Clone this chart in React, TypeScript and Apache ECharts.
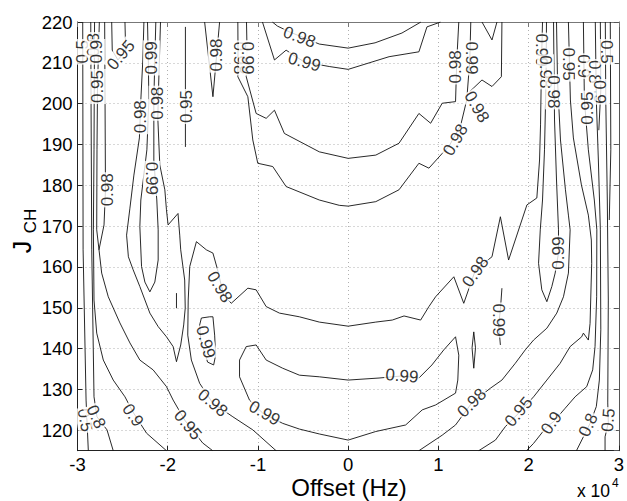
import React, { useEffect, useRef } from "react";
import * as echarts from "echarts";

// x values are in units of 10^4 Hz (axis reads -3 ... 3, "x 10^4"), y values are J_CH.
const left05 = [[-2.942, 220], [-2.938, 164.2], [-2.905, 127.4], [-2.88, 115]];
const left08 = [[-2.853, 220], [-2.85, 200.9], [-2.842, 164.2], [-2.817, 128.2], [-2.784, 123.3], [-2.673, 120.1], [-2.604, 115]];
const left09 = [[-2.811, 220], [-2.817, 188.7], [-2.824, 169.1], [-2.817, 151.9], [-2.787, 143.8], [-2.714, 137.2], [-2.604, 132.3], [-2.474, 128.2], [-2.386, 124.5], [-2.235, 119.3], [-2.014, 115]];
const left095 = [[-2.758, 220], [-2.778, 204.2], [-2.784, 188.7], [-2.787, 169.1], [-2.732, 158.5], [-2.659, 152.7], [-2.53, 146.3], [-2.419, 141.4], [-2.309, 137.2], [-2.162, 134.8], [-2.014, 130.7], [-1.94, 127.4], [-1.812, 122.5], [-1.613, 116.9], [-1.502, 115]];
const left098a = [[-2.699, 220], [-2.69, 178.9], [-2.706, 170.3], [-2.762, 164.2]];
const tongue095 = [[-2.621, 220], [-2.615, 213.1], [-2.552, 210.7], [-2.463, 213.1], [-2.469, 215.6], [-2.474, 220]];
const tongue099L = [[-2.224, 220], [-2.215, 210.7], [-2.209, 200.9], [-2.231, 188.7], [-2.298, 176.4], [-2.309, 169.9], [-2.29, 160.1], [-2.253, 156.3], [-2.198, 153.9], [-2.143, 156.3], [-2.106, 161.7], [-2.106, 169.1], [-2.121, 176.4], [-2.154, 186.2], [-2.154, 200.9], [-2.143, 210.7], [-2.132, 220]];
const left098 = [[-2.264, 220], [-2.276, 210.7], [-2.298, 200.9], [-2.314, 191.6], [-2.375, 182.5], [-2.419, 174.4], [-2.456, 167.8], [-2.436, 162.5], [-2.383, 159.3], [-2.309, 155.2], [-2.198, 148.7], [-2.106, 145.4], [-2.014, 142.9], [-1.94, 140.5], [-1.903, 136.8], [-1.856, 140.9], [-1.823, 145.8], [-1.806, 149.9], [-1.812, 156.8], [-1.856, 164.2], [-1.867, 167.8], [-1.886, 173.1], [-1.996, 170.3], [-2.014, 174], [-2.032, 178.9], [-2.088, 185], [-2.11, 196.5], [-2.099, 205.8], [-2.08, 220]];
const vTopLeft = [[-1.591, 220], [-1.499, 201.7], [-1.425, 220]];
const sliver095 = [[-1.804, 218.8], [-1.804, 189.4]];
const sliverLow = [[-1.903, 153.6], [-1.903, 149.9]];
const curveA = [[-0.799, 115], [-1.057, 120.1], [-1.278, 123.3], [-1.502, 126.7], [-1.646, 131.5], [-1.738, 137.2], [-1.778, 143.3], [-1.773, 151.9], [-1.756, 160.1], [-1.682, 166.2], [-1.572, 164.2], [-1.499, 163.4], [-1.447, 159.3], [-1.381, 153.1], [-1.296, 151.1], [-1.112, 154.8], [-1.02, 154.4], [-0.909, 150.3], [-0.762, 148.7], [-0.541, 147.8], [-0.32, 146.5], [0, 145.5], [0.306, 146.5], [0.489, 147], [0.619, 148], [0.803, 147], [0.895, 150.3], [0.969, 152.7], [1.171, 157.6], [1.281, 151.1], [1.411, 159.3], [1.594, 162.5], [1.687, 172.3], [1.778, 161.7], [1.981, 175.2], [2.091, 176.9], [2.121, 186.2], [2.132, 194.8], [2.143, 210.7], [2.154, 220]];
const loop099L = [[-1.627, 147.5], [-1.535, 147.8], [-1.499, 147.8], [-1.48, 143.3], [-1.469, 138.4], [-1.491, 136], [-1.558, 136.7], [-1.635, 142.1], [-1.646, 145.8], [-1.627, 147.5]];
const tongue099C = [[-1.13, 140.5], [-1.02, 140.9], [-0.909, 137.2], [-0.726, 135.2], [-0.541, 133.5], [-0.32, 133.1], [0, 132.3], [0.342, 132.8], [0.596, 133.3], [0.784, 132.8], [0.928, 136], [1.06, 139.7], [1.19, 142.9], [1.226, 138.4], [1.215, 132.3], [1.19, 129.1], [0.969, 126.2], [0.821, 125], [0.637, 121.3], [0.306, 119.7], [0, 117.6], [-0.32, 119.1], [-0.541, 120.3], [-0.726, 121.7], [-0.947, 124.2], [-1.094, 127.4], [-1.204, 133.1], [-1.204, 137.2], [-1.13, 140.5]];
const right098 = [[0.784, 115], [1.042, 118.8], [1.19, 121.3], [1.37, 126.7], [1.576, 130.3], [1.704, 132.3], [1.852, 136.4], [1.963, 139.7], [2.055, 142.1], [2.202, 145], [2.312, 148.7], [2.386, 152.7], [2.441, 158.5], [2.46, 169.1], [2.441, 172.7], [2.408, 178.9], [2.353, 191.1], [2.32, 205.8], [2.309, 220]];
const tongue099R = [[2.198, 220], [2.193, 205.8], [2.176, 188.7], [2.154, 176.4], [2.129, 169.1], [2.11, 160.9], [2.146, 154.4], [2.202, 151.5], [2.257, 155.2], [2.294, 158.5], [2.331, 163.4], [2.331, 169.1], [2.309, 181.3], [2.287, 196], [2.276, 220]];
const right095 = [[2.441, 220], [2.463, 200.9], [2.496, 191.6], [2.585, 180.1], [2.662, 172.7], [2.695, 166.6], [2.699, 160.9], [2.681, 146.2], [2.662, 142.1], [2.607, 143.8], [2.588, 142.9], [2.46, 140.5], [2.349, 136.4], [2.202, 132.3], [2.055, 128.2], [1.889, 124.2], [1.742, 120.9], [1.632, 117.6], [1.447, 115]];
const right09 = [[2.607, 220], [2.618, 200.9], [2.662, 188.7], [2.728, 176.4], [2.756, 169.1], [2.754, 152.7], [2.736, 140.5], [2.71, 134.8], [2.644, 130.7], [2.515, 128.2], [2.405, 125.4], [2.276, 122.1], [2.202, 120.9], [2.055, 116.8], [1.977, 115]];
const right08 = [[2.739, 220], [2.75, 200.9], [2.773, 186.2], [2.795, 169.1], [2.8, 144.6], [2.784, 132.3], [2.75, 125.8], [2.681, 121.7], [2.607, 118.4], [2.53, 115]];
const right05 = [[2.85, 220], [2.855, 200.9], [2.872, 176.4], [2.883, 151.9], [2.877, 126.7], [2.883, 121.8], [2.847, 118.4], [2.847, 115]];
const right09b = [[2.795, 220], [2.8, 203.3], [2.778, 193.5]];
const right05b = [[2.905, 220], [2.911, 188.7], [2.894, 171.5]];
const topRightW = [[1.704, 220], [1.698, 206.6], [1.594, 204.2], [1.483, 205.8], [1.345, 202.9]];
const vTopRight = [[1.483, 220], [1.594, 215.6], [1.649, 220]];
const ellipseR = [[1.392, 144.1], [1.373, 140.2], [1.392, 135.2], [1.411, 140.2], [1.392, 144.1]];
const segment099R = [[1.704, 154.8], [1.687, 149.5], [1.668, 145.8], [1.687, 140.9]];
const innerU = [[-1.127, 220], [-1.121, 213.1], [-1.13, 206.6], [-1.02, 197.6], [-0.909, 196.4], [-0.817, 198.4], [-0.707, 192.7], [-0.32, 188.2], [0, 186.6], [0.306, 187.4], [0.563, 190.3], [0.784, 197.6], [0.914, 195.2], [1.042, 200.1], [1.19, 200.5], [1.204, 210.7], [1.226, 220]];
const outerU = [[-1.223, 220], [-1.221, 213.1], [-1.223, 206.6], [-1.112, 201.7], [-1.057, 191.1], [-1.002, 185.4], [-0.836, 184.6], [-0.688, 179.7], [-0.32, 176.4], [-0.099, 175.1], [0, 174.9], [0.306, 176], [0.563, 178.9], [0.784, 185.4], [0.895, 184.2], [1.042, 187.8], [1.116, 189.5], [1.248, 194.8], [1.314, 200.9], [1.348, 210.7], [1.359, 220]];
const top098 = [[-0.84, 220], [-0.784, 219], [-0.652, 217.6], [-0.32, 214.6], [0, 213.6], [0.298, 214.9], [0.596, 217.3], [0.806, 220]];
const top099 = [[-0.95, 220], [-0.817, 210.7], [-0.688, 213.1], [-0.486, 210.2], [-0.21, 209.1], [0, 208.4], [0.453, 211.5], [0.784, 212.7], [0.873, 218.8], [1.024, 220]];

const contourLines = [
  left05, left08, left09, left095, left098a, tongue095, tongue099L, left098, vTopLeft,
  sliver095, sliverLow, curveA, loop099L, tongue099C, right098, tongue099R, right095,
  right09, right08, right05, right09b, right05b, topRightW, vTopRight, ellipseR,
  segment099R, innerU, outerU, top098, top099,
];

// contour labels: position (data units), text, angle (degrees)
const labelPos = [
  [-2.916, 122.5], [-2.794, 123.3], [-2.386, 123.7], [-1.778, 121.3], [-1.502, 126.7], [-0.928, 124.2],
  [0.596, 133.3], [1.37, 126.7], [1.889, 124.5], [2.253, 121.8], [2.662, 121.3], [2.883, 122.5],
  [-1.425, 155.1], [-1.58, 141.6], [1.411, 158.8], [1.668, 147.0], [2.331, 163.4],
  [1.19, 191.1], [1.425, 199.2], [1.37, 211.2], [1.193, 209.0], [-1.204, 211.2], [-1.116, 211.2],
  [-0.541, 216.3], [-0.486, 210.2],
  [-2.949, 212.7], [-2.828, 214.4], [-2.784, 212.7], [-2.778, 204.2], [-2.519, 211.9], [-2.179, 211.2],
  [-2.3, 196.8], [-2.118, 200.1], [-1.789, 199.3], [-1.461, 211.9], [-2.673, 178.9], [-2.179, 181.7],
  [2.143, 213.1], [2.187, 207.8], [2.276, 202.9], [2.441, 209.7], [2.607, 209.2], [2.728, 207.8],
  [2.784, 202.9], [2.861, 212.7], [2.651, 198.9],
];
const labelText = [
  "0.5", "0.8", "0.9", "0.95", "0.98", "0.99",
  "0.99", "0.98", "0.95", "0.9", "0.8", "0.5",
  "0.98", "0.99", "0.98", "0.99", "0.99",
  "0.98", "0.98", "0.99", "0.98", "0.98", "0.99",
  "0.98", "0.99",
  "0.5", "0.8", "0.9", "0.95", "0.95", "0.99",
  "0.98", "0.98", "0.95", "0.98", "0.98", "0.99",
  "0.99", "0.98", "0.98", "0.95", "0.9", "0.8",
  "0.9", "0.5", "0.95",
];
const labelAngle = [
  -80, -65, -55, -50, -40, -30,
  -5, 45, 50, 55, 65, 85,
  -60, -75, 55, -90, 90,
  60, -60, -90, 90, -90, -90,
  -20, -15,
  90, 90, 90, 90, 50, 90,
  90, 90, 90, 90, 90, -90,
  -90, -90, -90, -90, -90, -90,
  -90, -90, 90,
];

const xMin = -3;
const xMax = 3;
const yMin = 115;
const yMax = 220;

export default function App() {
  const ref = useRef<HTMLDivElement>(null);

  useEffect(() => {
    if (!ref.current) return;
    const chart = echarts.init(ref.current, null, { renderer: "svg" });
    const font = "'Liberation Sans', Arial, Helvetica, sans-serif";
    const axisColor = "#222";
    const gridColor = "#b0b0b0";

    const lineSeries = contourLines.map((pts) => ({
      type: "line",
      data: pts,
      xAxisIndex: 0,
      yAxisIndex: 0,
      symbol: "none",
      showSymbol: false,
      silent: true,
      clip: true,
      z: 3,
      lineStyle: { color: "#111", width: 0.9 },
    }));

    const labelSeries = {
      type: "scatter",
      xAxisIndex: 0,
      yAxisIndex: 0,
      symbol: "circle",
      symbolSize: 2,
      silent: true,
      z: 6,
      itemStyle: { color: "rgba(255,255,255,0)" },
      data: labelPos.map((p, i) => ({
        name: labelText[i],
        value: p,
        label: { rotate: labelAngle[i] },
      })),
      label: {
        show: true,
        position: "inside",
        formatter: "{b}",
        fontFamily: font,
        fontSize: 17,
        color: "#000",
        backgroundColor: "#fff",
        padding: [0, 1],
      },
      labelLayout: { hideOverlap: false },
    };

    chart.setOption({
      animation: false,
      backgroundColor: "#fff",
      grid: { left: 77.5, right: 6.3, top: 22, bottom: 50.3, containLabel: false },
      xAxis: [
        {
          type: "value",
          min: xMin,
          max: xMax,
          interval: 1,
          position: "bottom",
          axisLine: { show: true, onZero: false, lineStyle: { color: axisColor, width: 1 } },
          axisTick: { show: true, inside: true, length: 5, lineStyle: { color: axisColor } },
          axisLabel: { margin: 4, fontFamily: font, fontSize: 18.5, color: "#000" },
          splitLine: { show: true, lineStyle: { color: gridColor, type: [1, 3], width: 1 } },
        },
        {
          type: "value",
          min: xMin,
          max: xMax,
          interval: 1,
          position: "top",
          axisLine: { show: true, onZero: false, lineStyle: { color: "#777", width: 1 } },
          axisTick: { show: true, inside: true, length: 5, lineStyle: { color: "#777" } },
          axisLabel: { show: false },
          splitLine: { show: false },
        },
      ],
      yAxis: [
        {
          type: "value",
          min: yMin,
          max: yMax,
          splitNumber: 10,
          minInterval: 10,
          maxInterval: 10,
          position: "left",
          axisLine: { show: true, onZero: false, lineStyle: { color: axisColor, width: 1 } },
          axisTick: { show: true, inside: true, length: 5, lineStyle: { color: axisColor } },
          axisLabel: {
            margin: 5,
            fontFamily: font,
            fontSize: 18.5,
            color: "#000",
            formatter: (v: number) => (v % 10 === 0 ? String(v) : ""),
          },
          splitLine: { show: true, lineStyle: { color: gridColor, type: [1, 3], width: 1 } },
        },
        {
          type: "value",
          min: yMin,
          max: yMax,
          splitNumber: 10,
          minInterval: 10,
          maxInterval: 10,
          position: "right",
          axisLine: { show: true, onZero: false, lineStyle: { color: "#555", width: 1 } },
          axisTick: { show: true, inside: true, length: 5, lineStyle: { color: "#555" } },
          axisLabel: { show: false },
          splitLine: { show: false },
        },
      ],
      graphic: [
        {
          type: "text",
          x: 349,
          y: 487,
          style: { text: "Offset (Hz)", font: `24px ${font}`, fill: "#000", textAlign: "center", textVerticalAlign: "middle" },
        },
        {
          type: "text",
          x: 577,
          y: 491,
          style: { text: "x 10", font: `17.5px ${font}`, fill: "#000", textAlign: "left", textVerticalAlign: "middle" },
        },
        {
          type: "text",
          x: 612,
          y: 483,
          style: { text: "4", font: `12px ${font}`, fill: "#000", textAlign: "left", textVerticalAlign: "middle" },
        },
        {
          type: "text",
          x: 22,
          y: 247,
          rotation: Math.PI / 2,
          style: { text: "J", font: `25px ${font}`, fill: "#000", textAlign: "center", textVerticalAlign: "middle" },
        },
        {
          type: "text",
          x: 30,
          y: 221,
          rotation: Math.PI / 2,
          style: { text: "CH", font: `17px ${font}`, fill: "#000", textAlign: "center", textVerticalAlign: "middle" },
        },
      ],
      series: [...lineSeries, labelSeries],
    });

    return () => chart.dispose();
  }, []);

  return (
    <div
      ref={ref}
      style={{ position: "absolute", left: 0, top: 0, width: 627, height: 501, background: "#fff" }}
    />
  );
}
